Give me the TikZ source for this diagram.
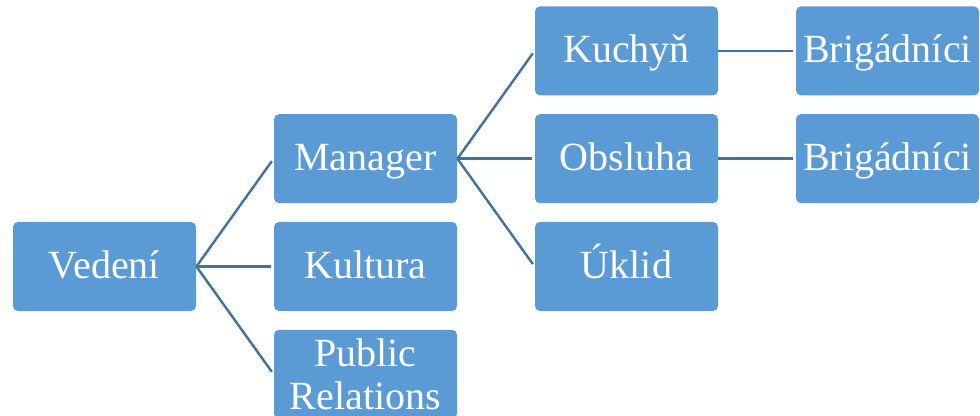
\documentclass[tikz,border=0pt]{standalone}
\usepackage{fontspec}
\setmainfont{Liberation Serif}
\usetikzlibrary{positioning}
\definecolor{boxblue}{HTML}{5B9BD5}
\definecolor{linkblue}{HTML}{41719C}
\def\dx{38.6pt}
\def\dy{9pt}
\tikzstyle{unit}=[fill=boxblue,rounded corners=2.5pt,minimum width=91.5pt,minimum height=44.5pt,
  inner sep=0pt,align=center,text=white,font=\fontsize{20}{20.5}\selectfont,
  text height=14pt,text depth=2pt]
\tikzstyle{link}=[linkblue,line width=1.2pt,shorten >=1.5pt]
\newcommand{\newUnit}[4]{\node[unit,#3](#1)[#4]{#2};}
\newcommand{\newLink}[2]{\draw[link] (#1.east) -- (#2.west);}

\begin{document}
\begin{tikzpicture}[node distance=\dy and \dx]
    \useasboundingbox (0,0) rectangle (490pt,208pt);
    \node[unit](V) at (52.25pt,74.75pt) {Vedení};
    \newUnit{K}{Kultura}{}{right=of V}
    \newUnit{M}{Manager}{}{above=of K}
    \newUnit{PR}{Public\\[1pt]Relations}{text height={},text depth={}}{below=of K}
    \newUnit{O}{Obsluha}{}{right=of M}
    \newUnit{Ku}{Kuchyň}{}{above=of O}
    \newUnit{U}{Úklid}{}{below=of O}
    \newUnit{B1}{Brigádníci}{}{right=of Ku}
    \newUnit{B2}{Brigádníci}{}{right=of O}
    \newLink{V}{M}
    \newLink{V}{K}
    \newLink{V}{PR}
    \newLink{M}{Ku}
    \newLink{M}{O}
    \newLink{M}{U}
    \newLink{Ku}{B1}
    \newLink{O}{B2}
\end{tikzpicture}
\end{document}
